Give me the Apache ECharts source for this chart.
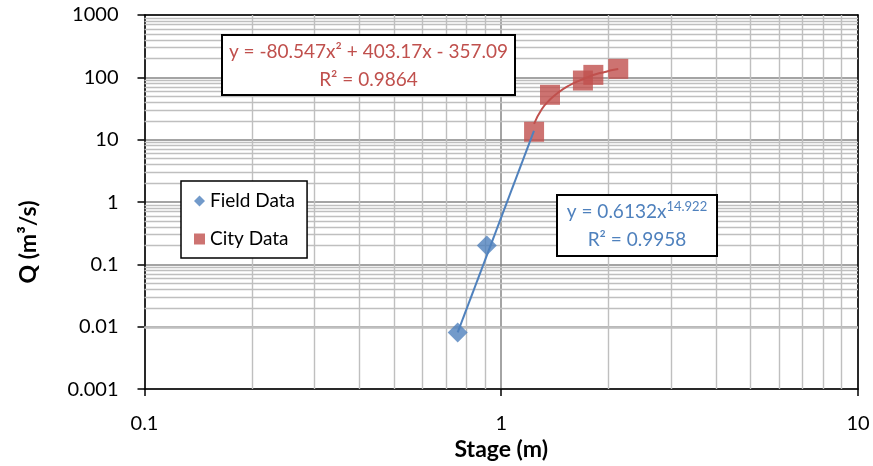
<!DOCTYPE html>
<html>
<head>
<meta charset="utf-8">
<script src="https://cdn.jsdelivr.net/npm/echarts@6/dist/echarts.min.js"></script>
<style>
html,body{margin:0;padding:0;background:#fff;}
#c{width:873px;height:466px;}
</style>
</head>
<body>
<div id="c"></div>
<script>
// ---- data ----
const fieldData = [[0.755, 0.0081], [0.911, 0.201]];
const cityData = [[1.236, 13.4], [1.37, 52.5], [1.694, 88.9], [1.812, 109.6], [2.128, 136.8]];
// trendlines as drawn in the reference
const fieldTrend = [[0.755, 0.0081], [1.235, 13.8]];
const cityTrend = [[1.236, 18], [1.3, 31], [1.37, 44], [1.45, 58], [1.55, 74], [1.65, 88],
                   [1.75, 101], [1.85, 113], [1.95, 122], [2.05, 131], [2.128, 136]];
const xTickLabels = ['0.1', '1', '10'];
const yTickLabels = ['0.001', '0.01', '0.1', '1', '10', '100', '1000'];
const fieldEq = 'y = 0.6132x';
const fieldExp = '14.922';
const fieldR2 = 'R² = 0.9958';
const cityEq = 'y = -80.547x² + 403.17x - 357.09';
const cityR2 = 'R² = 0.9864';

// minor log gridline positions (2..9 of each decade)
const mult = [2, 3, 4, 5, 6, 7, 8, 9];
const xMinor = [];
[-1, 0].forEach(d => mult.forEach(m => xMinor.push(+(m * Math.pow(10, d)).toPrecision(3))));
const yMinor = [];
[-3, -2, -1, 0, 1, 2].forEach(d => mult.forEach(m => yMinor.push(+(m * Math.pow(10, d)).toPrecision(3))));

const BLUE = '#4F81BD', RED = '#C0504D';
const FONT = 'Lato, "Liberation Sans", sans-serif';

const chart = echarts.init(document.getElementById('c'), null, {renderer: 'canvas'});

const labelFmt = arr => v => arr[Math.round(Math.log10(v)) - Math.round(Math.log10(parseFloat(arr[0])))];

const minorLines = [];
xMinor.forEach(v => minorLines.push({xAxis: v}));
yMinor.forEach(v => minorLines.push({yAxis: v}));

chart.setOption({
  backgroundColor: '#fff',
  animation: false,
  textStyle: {fontFamily: FONT},
  grid: {left: 144.5, right: 15, top: 15, bottom: 76, containLabel: false,
         show: true, borderWidth: 0, backgroundColor: '#fff'},
  legend: {
    data: ['Field Data', 'City Data'],
    orient: 'vertical', left: 181, top: 181,
    backgroundColor: '#fff', borderColor: '#000', borderWidth: 1.5,
    padding: [10, 12, 9, 13], itemGap: 18, itemWidth: 11, itemHeight: 11,
    textStyle: {fontSize: 19, lineHeight: 20, color: '#000', fontFamily: FONT}
  },
  xAxis: [{
    type: 'log', logBase: 10, min: 0.1, max: 10, interval: 1,
    axisLine: {show: true, lineStyle: {color: '#000', width: 1.5}},
    axisTick: {show: true, length: 7, lineStyle: {color: '#000', width: 1.5}},
    axisLabel: {fontSize: 20, color: '#000', margin: 24, formatter: labelFmt(xTickLabels)},
    splitLine: {show: true, lineStyle: {color: '#868686', width: 1.5}},
    name: 'Stage (m)', nameLocation: 'middle', nameGap: 46,
    nameTextStyle: {fontSize: 23, fontWeight: 'bold', color: '#000'}
  }, {
    type: 'log', logBase: 10, min: 0.1, max: 10, position: 'top',
    axisLine: {show: true, onZero: false, lineStyle: {color: '#000', width: 1.5}},
    axisTick: {show: false}, axisLabel: {show: false}, splitLine: {show: false}
  }],
  yAxis: [{
    type: 'log', logBase: 10, min: 0.001, max: 1000, interval: 1,
    axisLine: {show: true, lineStyle: {color: '#000', width: 1.5}},
    axisTick: {show: true, length: 7, lineStyle: {color: '#000', width: 1.5}},
    axisLabel: {fontSize: 20, color: '#000', margin: 26, formatter: labelFmt(yTickLabels)},
    splitLine: {show: true, lineStyle: {color: '#868686', width: 1.5}}
  }, {
    type: 'log', logBase: 10, min: 0.001, max: 1000, position: 'right',
    axisLine: {show: true, onZero: false, lineStyle: {color: '#000', width: 1.5}},
    axisTick: {show: false}, axisLabel: {show: false}, splitLine: {show: false}
  }],
  series: [
    {
      name: 'minor', type: 'line', data: [], silent: true, z: 1,
      markLine: {
        silent: true, symbol: 'none', animation: false, z: 1,
        label: {show: false},
        lineStyle: {color: '#bfbfbf', width: 1.4, type: 'solid'},
        data: minorLines
      }
    },
    {
      name: 'Field Data', type: 'scatter', data: fieldData, symbol: 'diamond', symbolSize: 20,
      itemStyle: {color: BLUE}, z: 3
    },
    {
      name: 'City Data', type: 'scatter', data: cityData, symbol: 'rect', symbolSize: 20,
      itemStyle: {color: RED}, z: 3
    },
    {
      name: 'cityTrend', type: 'line', data: cityTrend, smooth: true, showSymbol: false, symbol: 'none',
      lineStyle: {color: RED, width: 2}, z: 4, silent: true
    },
    {
      name: 'fieldTrend', type: 'line', data: fieldTrend, showSymbol: false, symbol: 'none',
      lineStyle: {color: BLUE, width: 2}, z: 5, silent: true
    }
  ],
  graphic: [
    {type: 'rect', x: 222, y: 35, z: 100, shape: {x: 0, y: 0, width: 293, height: 60},
     style: {fill: '#fff', stroke: '#000', lineWidth: 2}},
    {type: 'text', x: 368.5, y: 52, z: 101, style: {text: cityEq, fill: RED, font: '19px ' + FONT,
      textAlign: 'center', textVerticalAlign: 'middle'}},
    {type: 'text', x: 368.5, y: 80, z: 101, style: {text: cityR2, fill: RED, font: '19px ' + FONT,
      textAlign: 'center', textVerticalAlign: 'middle'}},
    {type: 'rect', x: 557, y: 195, z: 100, shape: {x: 0, y: 0, width: 160, height: 61},
     style: {fill: '#fff', stroke: '#000', lineWidth: 2}},
    {type: 'text', x: 637, y: 212, z: 101, style: {
      text: '{a|' + fieldEq + '}{s|' + fieldExp + '}',
      textAlign: 'center', textVerticalAlign: 'middle',
      rich: {
        a: {fontSize: 19, fontFamily: FONT, fill: BLUE, color: BLUE},
        s: {fontSize: 13, fontFamily: FONT, fill: BLUE, color: BLUE, padding: [0, 0, 10, 0]}
      }}},
    {type: 'text', x: 637, y: 240, z: 101, style: {text: fieldR2, fill: BLUE, font: '19px ' + FONT,
      textAlign: 'center', textVerticalAlign: 'middle'}},
    {
      type: 'text', x: 29, y: 242, rotation: Math.PI / 2, z: 100,
      style: {text: 'Q (m³/s)', fill: '#000', font: 'bold 23px ' + FONT,
              textAlign: 'center', textVerticalAlign: 'middle'}
    }
  ]
});
</script>
</body>
</html>
